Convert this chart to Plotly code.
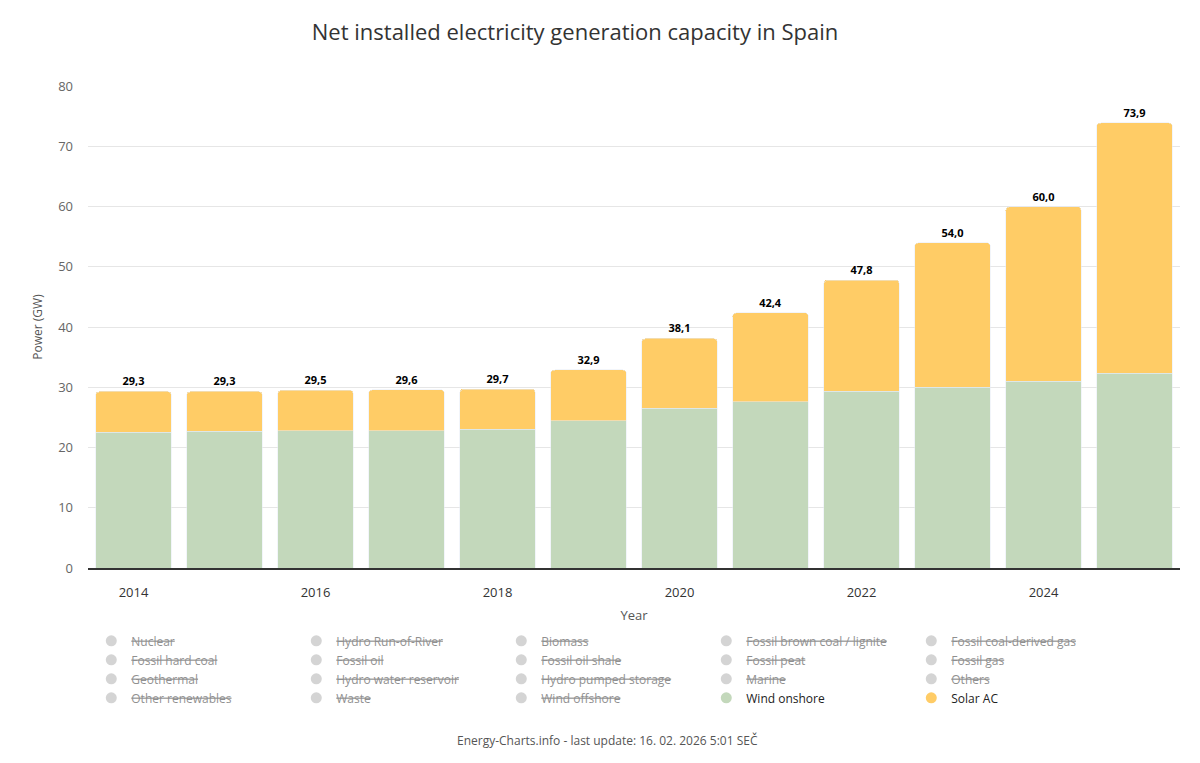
import plotly.graph_objects as go

# Daten (GW)
years = [2014, 2015, 2016, 2017, 2018, 2019, 2020, 2021, 2022, 2023, 2024, 2025]
wind_onshore = [22.5, 22.7, 22.8, 22.8, 23.0, 24.4, 26.5, 27.6, 29.3, 30.0, 31.0, 32.3]
solar_ac = [6.8, 6.6, 6.7, 6.8, 6.7, 8.5, 11.6, 14.8, 18.5, 24.0, 29.0, 41.6]

# ausgeblendete Legendeneinträge (Reihenfolge zeilenweise)
hidden_sources = [
    "Nuclear", "Hydro Run-of-River", "Biomass", "Fossil brown coal / lignite", "Fossil coal-derived gas",
    "Fossil hard coal", "Fossil oil", "Fossil oil shale", "Fossil peat", "Fossil gas",
    "Geothermal", "Hydro water reservoir", "Hydro pumped storage", "Marine", "Others",
    "Other renewables", "Waste", "Wind offshore",
]

GREEN = "#c3d8bb"
YELLOW = "#ffcc66"

totals = [w + s for w, s in zip(wind_onshore, solar_ac)]
labels = [f"{t:.1f}".replace(".", ",") for t in totals]

fig = go.Figure()

fig.add_trace(go.Bar(x=years, y=wind_onshore, name="Wind onshore",
                     marker_color=GREEN, showlegend=False))
fig.add_trace(go.Bar(x=years, y=solar_ac, name="Solar AC",
                     marker_color=YELLOW, showlegend=False,
                     text=labels, textposition="outside", cliponaxis=False,
                     textfont=dict(size=11, color="#000000", family="Open Sans", weight="bold")))

# Legende: Kreis-Symbole wie im Original
for name in hidden_sources:
    fig.add_trace(go.Scatter(x=[None], y=[None], mode="markers", visible="legendonly",
                             name='<span style="text-decoration:line-through">' + name + "</span>",
                             marker=dict(color="#aaaaaa", size=11, symbol="circle")))
fig.add_trace(go.Scatter(x=[None], y=[None], mode="markers", name="Wind onshore",
                         marker=dict(color=GREEN, size=11, symbol="circle")))
fig.add_trace(go.Scatter(x=[None], y=[None], mode="markers", name="Solar AC",
                         marker=dict(color=YELLOW, size=11, symbol="circle")))

# die Seite hat 8px Rand (body margin) -> alles um 8px verschoben
fig.update_layout(
    width=1200, height=763,
    barmode="stack",
    bargap=0.165,
    barcornerradius=4,
    plot_bgcolor="white",
    paper_bgcolor="white",
    margin=dict(l=80, r=28, t=78, b=203),
    title=dict(text="Net installed electricity generation capacity in Spain",
               x=567 / 1200, xanchor="center", y=1 - 24 / 763, yanchor="middle",
               font=dict(family="Open Sans", size=22, color="#333333")),
    font=dict(family="Open Sans", size=13, color="#333333"),
    xaxis=dict(title=dict(text="Year", font=dict(size=13, color="#555555"), standoff=11),
               tickmode="array", tickvals=[2014, 2016, 2018, 2020, 2022, 2024],
               ticktext=["2014", "2016", "2018", "2020", "2022", "2024"],
               tickfont=dict(size=13, color="#333333"), ticklabelstandoff=12,
               showline=True, linecolor="#333333", linewidth=1.5,
               ticks="", showgrid=False, range=[2013.5, 2025.5]),
    yaxis=dict(title=dict(text="Power (GW)", font=dict(size=12, color="#555555"), standoff=12),
               range=[0, 80], dtick=10, tickfont=dict(size=13, color="#666666"),
               ticklabelstandoff=14,
               gridcolor="#e6e6e6", zeroline=False, ticks="", ticklen=0),
    legend=dict(orientation="h", x=0.003, xanchor="left", y=-0.121, yanchor="top",
                traceorder="normal",
                entrywidth=160, entrywidthmode="pixels", itemclick=False,
                font=dict(family="Open Sans", size=12, color="#222222"),
                tracegroupgap=0, itemwidth=30),
    annotations=[dict(text="Energy-Charts.info - last update: 16. 02. 2026 5:01 SEČ",
                      xref="paper", yref="paper", x=0.476, y=-0.357, xanchor="center",
                      yanchor="middle", showarrow=False,
                      font=dict(family="Open Sans", size=12, color="#555555"))],
)

fig.write_html("out.html")
